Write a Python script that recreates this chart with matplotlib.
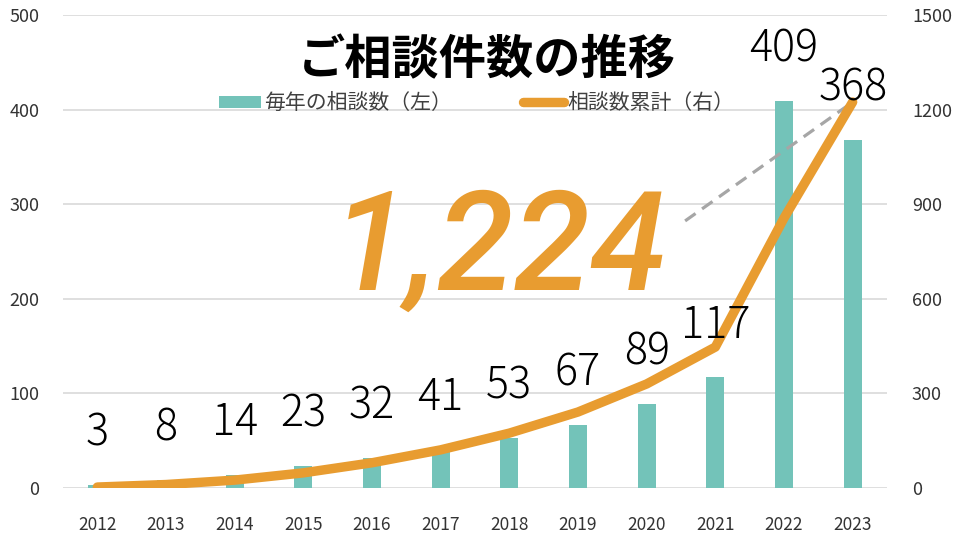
import matplotlib
matplotlib.use("Agg")
import matplotlib.pyplot as plt
from matplotlib.patches import Patch
from matplotlib.lines import Line2D
import numpy as np

plt.rcParams['font.family'] = ['Noto Sans CJK JP', 'DejaVu Sans']

years = ["2012", "2013", "2014", "2015", "2016", "2017", "2018", "2019", "2020", "2021", "2022", "2023"]
counts = [3, 8, 14, 23, 32, 41, 53, 67, 89, 117, 409, 368]
cumulative = [3, 11, 25, 48, 80, 121, 174, 241, 330, 447, 856, 1224]
total_label = "1,224"
# dashed pointer from the big number to the last point (x index, right-axis value)
pointer_x = [8.56, 11]
pointer_y = [847, 1224]

bar_color = "#73C3B9"
line_color = "#E89C30"

W, H = 960, 539
fig = plt.figure(figsize=(W / 100, H / 100), dpi=100)
ax = fig.add_axes([63 / W, 1 - 488 / H, 824 / W, 473 / H])
ax2 = ax.twinx()

x = np.arange(len(years))
ax.bar(x, counts, width=0.26, color=bar_color, zorder=2)
ax.set_xlim(-0.5, len(years) - 0.5)
ax.set_ylim(0, 500)
ax.set_yticks(range(0, 501, 100))
ax.yaxis.grid(True, color="#d9d9d9", linewidth=1.2, zorder=0)
ax.set_axisbelow(True)

ax2.plot(x, cumulative, color=line_color, linewidth=6.8, solid_capstyle="round", zorder=3)
ax2.plot(pointer_x, pointer_y, color="#a6a6a6", linewidth=2.3, linestyle=(0, (4, 2.5)), zorder=2)
ax2.set_ylim(0, 1500)
ax2.set_yticks(range(0, 1501, 300))

for a in (ax, ax2):
    for s in a.spines.values():
        s.set_visible(False)
    a.tick_params(length=0, colors="#333333", labelsize=13)

ax.tick_params(axis="y", pad=17)
ax2.tick_params(axis="y", pad=18)
ax.set_xticks(x)
ax.set_xticklabels(years, fontsize=12.5)
ax.tick_params(axis="x", pad=20)

ax2.set_zorder(ax.get_zorder() + 1)
ax2.patch.set_visible(False)

for xi, v in zip(x, counts):
    ax2.annotate(str(v), xy=(xi, v * 3), xytext=(0, 37.5), textcoords="offset points",
                 ha="center", va="center", fontsize=31, weight="light", color="black", zorder=5)

ax2.text(0.53, 0.419, total_label, transform=ax.transAxes, ha="center", va="baseline",
         fontsize=100, family=["Roboto", "DejaVu Sans"], style="italic", weight="medium",
         color=line_color, zorder=4)

fig.text(487 / W, 1 - 60 / H, "ご相談件数の推移", ha="center", va="center",
         fontsize=34, weight="bold", color="black")

handles = [Patch(facecolor=bar_color, edgecolor="none"),
           Line2D([0], [0], color=line_color, linewidth=6.8, solid_capstyle="round")]
ax2.legend(handles, ["毎年の相談数（左）", "相談数累計（右）"], loc="center",
           bbox_to_anchor=(0.502, 0.814), ncol=2, frameon=False, fontsize=15,
           handlelength=2.0, handleheight=0.5, handletextpad=0.15, columnspacing=3.4,
           labelcolor="#404040")

fig.savefig("out.png", dpi=100)
